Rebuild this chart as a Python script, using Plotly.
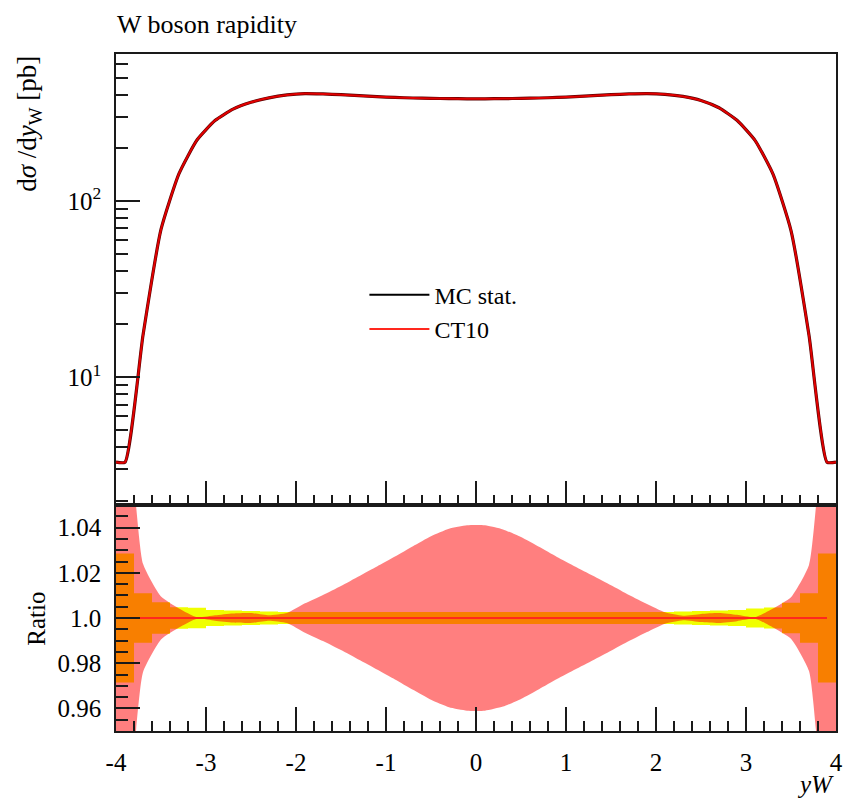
import plotly.graph_objects as go

# ---------------- data ----------------
bin_edges = [-4.0, -3.8, -3.6, -3.4, -3.2, -3.0, -2.8, -2.6, -2.4, -2.2, -2.0,
             -1.8, -1.6, -1.4, -1.2, -1.0, -0.8, -0.6, -0.4, -0.2, 0.0,
             0.2, 0.4, 0.6, 0.8, 1.0, 1.2, 1.4, 1.6, 1.8, 2.0,
             2.2, 2.4, 2.6, 2.8, 3.0, 3.2, 3.4, 3.6, 3.8, 4.0]
bin_centers = [-3.9, -3.7, -3.5, -3.3, -3.1, -2.9, -2.7, -2.5, -2.3, -2.1,
               -1.9, -1.7, -1.5, -1.3, -1.1, -0.9, -0.7, -0.5, -0.3, -0.1,
               0.1, 0.3, 0.5, 0.7, 0.9, 1.1, 1.3, 1.5, 1.7, 1.9,
               2.1, 2.3, 2.5, 2.7, 2.9, 3.1, 3.3, 3.5, 3.7, 3.9]
# d sigma / d y_W [pb]
xsec = [3.3, 17.3, 69.0, 143.0, 222.0, 286.0, 332.0, 363.0, 385.0, 400.0,
        407.0, 405.0, 401.0, 396.0, 391.0, 387.0, 384.0, 382.0, 381.0, 380.0,
        380.0, 381.0, 382.0, 384.0, 387.0, 391.0, 396.0, 401.0, 405.0, 407.0,
        403.0, 392.0, 372.0, 338.0, 287.0, 221.0, 142.0, 68.0, 17.3, 3.3]
# relative MC statistical uncertainty (per bin)
mc_stat = [0.0285, 0.0110, 0.0070, 0.0048, 0.0045, 0.0035, 0.0033, 0.0031, 0.0029, 0.0027,
           0.0027, 0.0027, 0.0027, 0.0027, 0.0027, 0.0027, 0.0027, 0.0027, 0.0027, 0.0027,
           0.0027, 0.0027, 0.0027, 0.0027, 0.0027, 0.0027, 0.0027, 0.0027, 0.0027, 0.0027,
           0.0027, 0.0029, 0.0031, 0.0033, 0.0035, 0.0042, 0.0046, 0.0068, 0.0110, 0.0285]
# relative CT10 PDF uncertainty (per bin)
pdf_unc = [0.0900, 0.0240, 0.0095, 0.0042, 0.0003, 0.0012, 0.0020, 0.0022, 0.0012, 0.0022,
           0.0065, 0.0102, 0.0142, 0.0185, 0.0228, 0.0272, 0.0318, 0.0362, 0.0395, 0.0410,
           0.0410, 0.0392, 0.0358, 0.0315, 0.0270, 0.0228, 0.0187, 0.0145, 0.0102, 0.0062,
           0.0025, 0.0010, 0.0018, 0.0022, 0.0014, 0.0003, 0.0042, 0.0092, 0.0235, 0.0900]

x_ticks = [-4, -3, -2, -1, 0, 1, 2, 3, 4]
x_ticktext = ["-4", "-3", "-2", "-1", "0", "1", "2", "3", "4"]
ratio_ticks = [0.96, 0.98, 1.0, 1.02, 1.04]
ratio_ticktext = ["0.96", "0.98", "1.0", "1.02", "1.04"]
log_ticks = [10, 100]
log_ticktext = ["10<sup>1</sup>", "10<sup>2</sup>"]
log_minor = [2, 3, 4, 5, 6, 7, 8, 9, 20, 30, 40, 50, 60, 70, 80, 90, 200, 300, 400, 500, 600, 700]

# ---------------- derived ----------------
x_line = [bin_edges[0]] + bin_centers + [bin_edges[-1]]
y_line = [xsec[0]] + xsec + [xsec[-1]]
pdf_ext = [pdf_unc[0]] + pdf_unc + [pdf_unc[-1]]
mc_step = mc_stat + [mc_stat[-1]]
ratio = [v / v for v in xsec]

FONT = "Liberation Serif"
YELLOW = "rgb(240,255,0)"
REDFILL = "rgba(255,0,0,0.5)"
INK = "#1a1a1a"
SMOOTH = 0.5

fig = go.Figure()

# ---- upper panel ----
fig.add_trace(go.Scatter(x=x_line, y=y_line, xaxis="x2", yaxis="y2", mode="lines",
                         line=dict(color="rgb(90,0,0)", width=3.2, shape="spline",
                                   smoothing=SMOOTH), showlegend=False))
fig.add_trace(go.Scatter(x=x_line, y=y_line, xaxis="x2", yaxis="y2", mode="lines",
                         line=dict(color="rgb(225,0,0)", width=2.0, shape="spline",
                                   smoothing=SMOOTH), showlegend=False))

# ---- ratio panel ----
fig.add_trace(go.Scatter(x=bin_edges, y=[1 - e for e in mc_step], xaxis="x", yaxis="y",
                         mode="lines", line=dict(width=0, shape="hv"),
                         showlegend=False, hoverinfo="skip"))
fig.add_trace(go.Scatter(x=bin_edges, y=[1 + e for e in mc_step], xaxis="x", yaxis="y",
                         mode="lines", line=dict(width=0, shape="hv"), fill="tonexty",
                         fillcolor=YELLOW, showlegend=False, hoverinfo="skip"))
fig.add_trace(go.Scatter(x=x_line, y=[1 - e for e in pdf_ext], xaxis="x", yaxis="y",
                         mode="lines", line=dict(width=0, shape="spline", smoothing=SMOOTH),
                         showlegend=False, hoverinfo="skip"))
fig.add_trace(go.Scatter(x=x_line, y=[1 + e for e in pdf_ext], xaxis="x", yaxis="y",
                         mode="lines", line=dict(width=0, shape="spline", smoothing=SMOOTH),
                         fill="tonexty", fillcolor=REDFILL,
                         showlegend=False, hoverinfo="skip"))
fig.add_trace(go.Scatter(x=bin_centers, y=ratio, xaxis="x", yaxis="y", mode="lines",
                         line=dict(color="black", width=2), name="MC stat."))
fig.add_trace(go.Scatter(x=bin_centers, y=ratio, xaxis="x", yaxis="y", mode="lines",
                         line=dict(color="rgb(255,40,30)", width=2), name="CT10"))

tickcommon = dict(ticks="inside", tickcolor=INK, tickwidth=1.6, showline=True,
                  linecolor=INK, linewidth=1.6, mirror=True, showgrid=False, zeroline=False,
                  tickfont=dict(family=FONT, size=25, color="black"))

lower_frac = 226 / 677

fig.update_layout(
    width=846, height=801,
    margin=dict(l=116, r=3, t=54, b=70),
    paper_bgcolor="white", plot_bgcolor="white",
    font=dict(family=FONT, color="black"),
    title=dict(text="W boson rapidity", x=117 / 846, xanchor="left", xref="container",
               y=1 - 24 / 801, yanchor="middle", yref="container",
               font=dict(family=FONT, size=26, color="black")),
    xaxis=dict(domain=[0, 1], anchor="y", range=[-4, 4], tickmode="array",
               tickvals=x_ticks, ticktext=x_ticktext, ticklen=24, ticklabelstandoff=8,
               ticklabeloverflow="allow",
               minor=dict(dtick=0.2, tick0=-4, ticks="inside", ticklen=10, tickwidth=1.6,
                          tickcolor=INK, showgrid=False),
               **tickcommon),
    xaxis2=dict(domain=[0, 1], anchor="y2", range=[-4, 4], matches="x", tickmode="array",
                tickvals=x_ticks, showticklabels=False, ticklen=24,
                minor=dict(dtick=0.2, tick0=-4, ticks="inside", ticklen=10, tickwidth=1.6,
                           tickcolor=INK, showgrid=False),
                **tickcommon),
    yaxis=dict(domain=[0, lower_frac], anchor="x", range=[0.95, 1.05], tickmode="array",
               tickvals=ratio_ticks, ticktext=ratio_ticktext, ticklen=24, ticklabelstandoff=8,
               minor=dict(dtick=0.005, tick0=0.95, ticks="inside", ticklen=12, tickwidth=1.6,
                          tickcolor=INK, showgrid=False),
               **tickcommon),
    yaxis2=dict(domain=[lower_frac, 1], anchor="x2", type="log", range=[0.2757, 2.834],
                tickmode="array", tickvals=log_ticks, ticktext=log_ticktext, ticklen=24,
                ticklabelstandoff=8,
                minor=dict(tickmode="array", tickvals=log_minor, ticks="inside", ticklen=12,
                           tickwidth=1.6, tickcolor=INK, showgrid=False),
                **tickcommon),
    legend=dict(x=0.345, y=0.677, xanchor="left", yanchor="top", bgcolor="rgba(0,0,0,0)",
                font=dict(family=FONT, size=24, color="black"), itemwidth=60,
                traceorder="normal", tracegroupgap=0),
    annotations=[
        dict(text="d<i>σ</i> /d<i>y</i><sub>W</sub> [pb]", textangle=-90, xref="paper",
             yref="paper", x=(28 - 116) / 727, y=1.0, xanchor="center", yanchor="top",
             showarrow=False, font=dict(family=FONT, size=27, color="black")),
        dict(text="Ratio", textangle=-90, xref="paper", yref="paper",
             x=(35 - 116) / 727, y=(731 - 619) / 677, xanchor="center", yanchor="middle",
             showarrow=False, font=dict(family=FONT, size=25, color="black")),
        dict(text="<i>y</i><i>W</i>", xref="paper", yref="paper", x=1.0,
             y=-(784 - 731) / 677, xanchor="right", yanchor="middle", showarrow=False,
             font=dict(family=FONT, size=25, color="black")),
    ],
)

fig.write_html("out.html")
